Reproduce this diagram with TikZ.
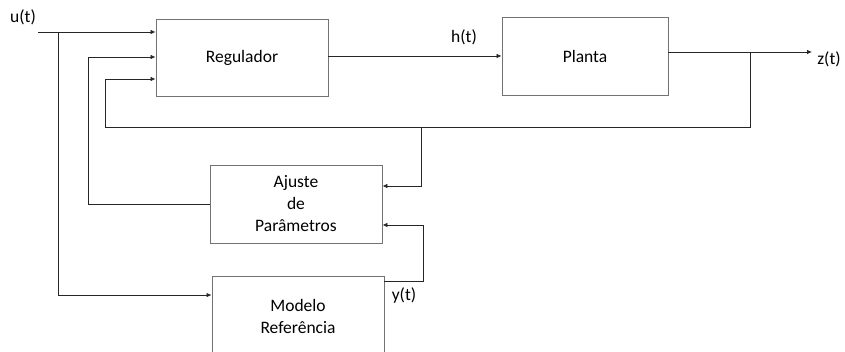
\documentclass[tikz,border=0pt]{standalone}
\usepackage{fontspec}
\setmainfont{Carlito}
\usetikzlibrary{arrows.meta,calc}
\begin{document}
\begin{tikzpicture}[x=1pt,y=-1pt,
  blockbox/.style={draw=black!55,line width=0.9pt,rectangle,minimum width=172pt,align=center,inner sep=0pt},
  wire/.style={draw=black!85,line width=0.75pt},
  arr/.style={wire,-{Latex[length=5pt,width=4.5pt]}},
  lbl/.style={inner sep=0pt},
  every node/.style={font=\fontsize{17.5}{22}\selectfont}]
\useasboundingbox (0,0) rectangle (845,352);
\clip (0,0) rectangle (845,352);
% blocks
\node[blockbox,minimum height=77pt] (reg) at (242,57.5) {Regulador};
\node[blockbox,minimum width=166pt,minimum height=78pt] (plant) at (585,56) {Planta};
\node[blockbox,minimum height=78pt] (ajuste) at (296,204) {Ajuste\\de\\Parâmetros};
\node[blockbox,minimum height=80pt] (modelo) at (298,316.5) {Modelo\\Referência};
% signal labels
\node[lbl] (ulbl) at (23,17) {u(t)};
\node[lbl] (hlbl) at (464,37) {h(t)};
\node[lbl] (zlbl) at (829,59) {z(t)};
\node[lbl] (ylbl) at (404,296) {y(t)};
% junction points
\coordinate (uin) at (38,32);
\coordinate (usplit) at (58,32);
\coordinate (zend) at (812,52);
\coordinate (zsplit) at (750,52);
\coordinate (fbtap) at (421,127);
\coordinate (yout) at ($(modelo.north east)+(0,5)$);
% input u(t)
\draw[arr] (uin) -- (reg.west |- uin);
\draw[arr] (usplit) |- ($(modelo.north west)+(0,19)$);
% controller to plant and output
\draw[arr] (reg.east |- plant.west) -- (plant.west);
\draw[arr] (plant.east |- zend) -- (zend);
% plant feedback to regulator and adjuster
\draw[arr] (zsplit) |- (105,127) |- (reg.west |- 0,79);
\draw[arr] (fbtap) |- (ajuste.east |- 0,186);
% adjuster output to regulator
\draw[arr] (ajuste.west) -| (88,57) -- (reg.west |- 0,57);
% reference model output
\draw[arr] (yout) -| (423,225) -- (ajuste.east |- 0,225);
\end{tikzpicture}
\end{document}
